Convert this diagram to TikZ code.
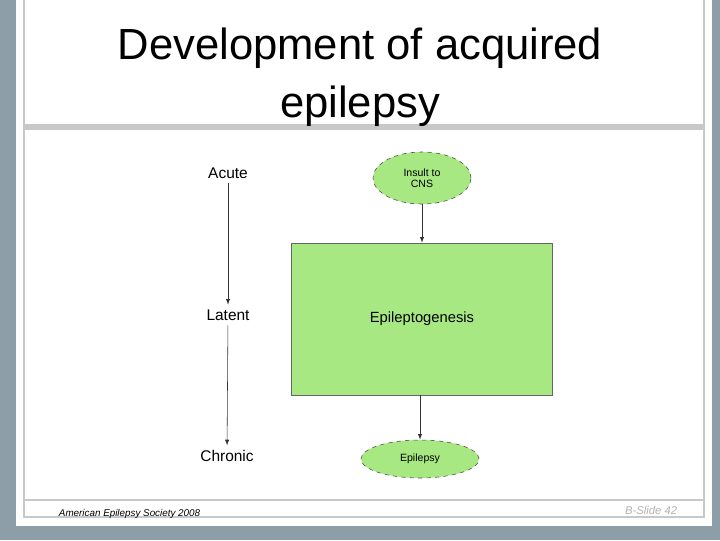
\documentclass[tikz,border=0pt]{standalone}
\usepackage{fontspec}
\setmainfont{Liberation Sans}
\usetikzlibrary{shapes.geometric}
\definecolor{slidebg}{HTML}{8D9EA8}
\definecolor{leaf}{HTML}{A8E882}
\definecolor{rulegray}{HTML}{C8C8C8}

\begin{document}
\begin{tikzpicture}[x=0.025cm, y=-0.025cm,
  stage/.style={font=\fontsize{11}{12}\selectfont},
  %
  event/.style={draw=black!70, dashed, ellipse, fill=leaf, inner sep=0pt,
    align=center, font=\fontsize{7.5}{8}\selectfont},
  %
  process/.style={draw=black!60, rectangle, fill=leaf, inner sep=0pt,
    font=\fontsize{10.5}{12}\selectfont},
  %
  flow/.style={->, >=latex, black!80, line width=.4pt}
  ]

  \useasboundingbox (0,0) rectangle (720,540);
  \fill [slidebg] (0,0) rectangle (720,540);
  \fill [white] (16,0) rectangle (712,526);
  \draw [rulegray, line width=1pt] (24,0) -- (24,517) -- (704,517) -- (704,0);
  \fill [rulegray] (24,124) rectangle (704,130);
  \draw [rulegray, line width=1pt] (24,500) -- (704,500);

  \node [align=center, font=\fontsize{31}{41}\selectfont] (title) at (360,77)
    {Development of acquired\\epilepsy};

  \node [stage] (acute) at (228,173) {Acute};
  \node [stage] (latent) at (228,315) {Latent};
  \node [stage] (chronic) at (227,456) {Chronic};

  \node [event, minimum width=69.7pt, minimum height=37pt] (insult) at (422,178)
    {Insult to\\CNS};
  \node [process, minimum width=185.6pt, minimum height=108.1pt] (epgen) at (422,319)
    {Epileptogenesis};
  \node [event, minimum width=83.9pt, minimum height=27pt] (epilepsy) at (420,459)
    {Epilepsy};

  \draw [flow] (acute) -- (latent);
  \draw [flow] (latent) -- (chronic);
  \draw [flow] (insult) -- (epgen);
  \draw [flow] (epgen.south -| epilepsy) -- (epilepsy);

  \node [font=\fontsize{7}{8}\selectfont\itshape, anchor=west] (credit) at (54,514)
    {American Epilepsy Society 2008};
  \node [font=\fontsize{8}{9}\selectfont\itshape, text=black!30, anchor=east] (slideno)
    at (682,510) {B-Slide 42};
\end{tikzpicture}
\end{document}
